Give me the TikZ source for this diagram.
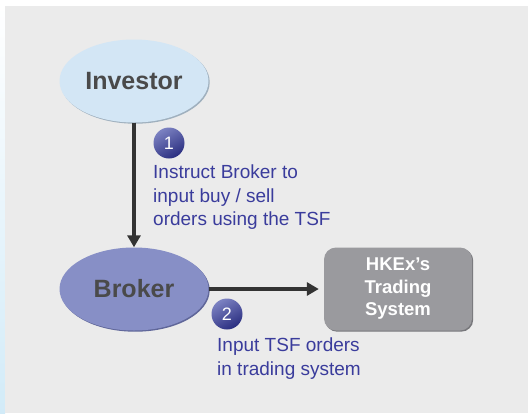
\documentclass[tikz,border=0pt]{standalone}
\usepackage{fontspec}
\setmainfont{Liberation Sans}
\usetikzlibrary{shapes.geometric,arrows.meta,positioning,shadows}

\definecolor{panel}{HTML}{EBEBEB}
\definecolor{stripblue}{HTML}{D2EBF8}
\definecolor{investorfill}{HTML}{D3E6F5}
\definecolor{investorrim}{HTML}{9FB0BE}
\definecolor{brokerfill}{HTML}{878FC6}
\definecolor{brokerrim}{HTML}{5F6699}
\definecolor{textgray}{HTML}{4A4A4A}
\definecolor{noteblue}{HTML}{3A3C9C}
\definecolor{boxgray}{HTML}{9A9A9E}
\definecolor{boxrim}{HTML}{77777B}
\definecolor{arrowgray}{HTML}{333333}
\definecolor{steplight}{HTML}{7C82C2}
\definecolor{stepdark}{HTML}{2A2E80}

\begin{document}
\begin{tikzpicture}[x=1pt,y=-1pt,
    party/.style={ellipse,minimum width=149,minimum height=83,inner sep=0,
    font=\bfseries\fontsize{25}{28}\selectfont,text=textgray},
    system/.style={rectangle,rounded corners=12,minimum width=148,minimum height=83,inner sep=0,
    fill=boxgray,text=white,align=center,
    drop shadow={shadow xshift=1.2pt,shadow yshift=-1.2pt,fill=boxrim,opacity=1},
    font=\bfseries\fontsize{18.5}{22.5}\selectfont},
    stepball/.style={circle,minimum size=31,inner sep=0,text=white,
    shading=axis,top color=steplight,bottom color=stepdark,shading angle=30,
    font=\fontsize{18}{20}\selectfont},
    note/.style={anchor=north west,inner sep=0,align=left,text=noteblue,
    font=\fontsize{19}{23.5}\selectfont},
    link/.style={line width=4,arrowgray,-{Triangle[length=12,width=13]}}
    ]
    \def\W{528}  % picture width
    \def\H{413}  % picture height
    \def\m{5}    % left strip width
    \def\t{6}    % top strip height
    \def\cx{134} % ellipse column

    \useasboundingbox (0,0) rectangle (\W,\H);
    \fill[white] (0,0) rectangle (\W,\H);
    \shade[top color=white,bottom color=stripblue] (0,\t) rectangle (\m,\H);
    \fill[panel] (\m,\t) rectangle (\W,\H);

    \node[party,fill=investorfill,
    drop shadow={shadow xshift=1.2pt,shadow yshift=-1.2pt,fill=investorrim,opacity=1}]
    (investor) at (\cx,81) {Investor};
    \node[party,fill=brokerfill,
    drop shadow={shadow xshift=1.2pt,shadow yshift=-1.2pt,fill=brokerrim,opacity=1}]
    (broker) at (\cx,289) {Broker};
    \node[system] (hkex) at (398,289) {HKEx’s\\Trading\\System};

    \draw[link] (investor) -- (broker);
    \draw[link,shorten >=5] (broker.east) -- (hkex.west);

    \node[stepball] (step1) at (169,143) {1};
    \node[note] (note1) at (153,165) {Instruct Broker to\\input buy / sell\\orders using the TSF};
    \node[stepball] (step2) at (227,314) {2};
    \node[note] (note2) at (217,338) {Input TSF orders\\in trading system};
\end{tikzpicture}
\end{document}
